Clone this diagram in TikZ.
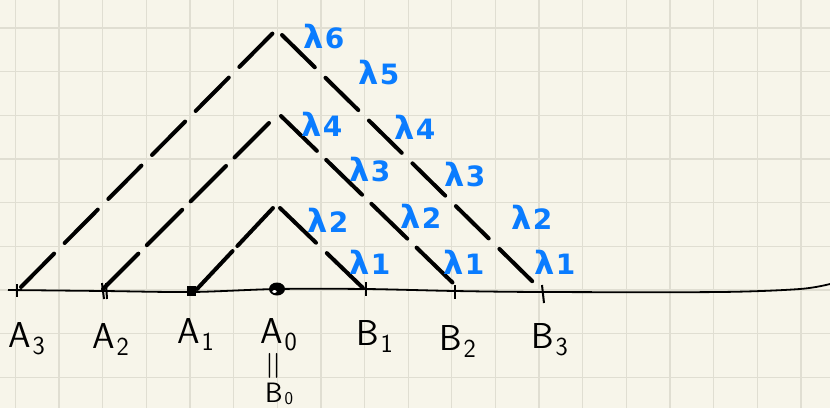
\documentclass[tikz,border=0pt]{standalone}
\usepackage{fontspec}
\newfontfamily\lamfont{DejaVu Sans}
\usetikzlibrary{calc}
\definecolor{paper}{RGB}{247,245,234}
\definecolor{gridc}{RGB}{224,222,210}
\definecolor{lblue}{RGB}{10,124,255}
\newcommand{\lm}[1]{λ\kern1pt{\fontsize{28}{28}\selectfont #1}}
\newcommand{\pt}[2]{#1\kern2pt\raisebox{-7pt}{\fontsize{26}{26}\selectfont #2}}
\tikzset{
  gridline/.style={draw=gridc, line width=1.3pt},
  dline/.style={line width=4pt, line cap=round, black},
  lam/.style={text=lblue, font=\lamfont\bfseries\fontsize{32}{32}\selectfont, inner sep=0pt},
  plab/.style={font=\sffamily\fontsize{36}{36}\selectfont, inner sep=0pt, anchor=base west},
  tick/.style={line width=2pt, black}
}
\begin{document}
\begin{tikzpicture}[x=1pt,y=-1pt]
\useasboundingbox (0,0) rectangle (830,408);
\fill[paper] (0,0) rectangle (830,408);
\foreach \i in {0,...,18} {\draw[gridline] ({15.3+43.65*\i},0) -- ++(0,408);}
\foreach \j in {0,...,8} {\draw[gridline] (0,{28+43.65*\j}) -- ++(830,0);}
% axis points
\coordinate (A3) at (17,290);
\coordinate (A2) at (104,291);
\coordinate (A1) at (192,292);
\coordinate (A0) at (277,289);
\coordinate (B1) at (366,289);
\coordinate (B2) at (455,291);
\coordinate (B3) at (543,292);
\coordinate (axL) at (8,290);
\coordinate (axR) at (830,284);
\draw[line width=1.8pt] plot[smooth] coordinates {(axL) (A2) (A1) (A0) (B1) (B2) (B3) (720,292) (800,289) (axR)};
% triangle sides
\coordinate (L3a) at (21,287); \coordinate (L3b) at (273,33);
\coordinate (R3a) at (282,35); \coordinate (R3b) at (533,282);
\coordinate (L2a) at (103,289); \coordinate (L2b) at (269,123);
\coordinate (R2a) at (281,116); \coordinate (R2b) at (453,283);
\coordinate (L1a) at (197,289); \coordinate (L1b) at (273,208);
\coordinate (R1a) at (280,208); \coordinate (R1b) at (363,288);
\draw[dline, dash pattern=on 47pt off 15pt] (L3a) -- (L3b);
\draw[dline, dash pattern=on 46pt off 15pt] (R3a) -- (R3b);
\draw[dline, dash pattern=on 50pt off 12pt] (L2a) -- (L2b);
\draw[dline, dash pattern=on 50pt off 13pt] (R2a) -- (R2b);
\draw[dline, dash pattern=on 52pt off 7pt] (L1a) -- (L1b);
\draw[dline, dash pattern=on 50pt off 15pt] (R1a) -- (R1b);
% marks on axis
\draw[tick] ($(A3)+(0,-6)$) -- ($(A3)+(0,7)$);
\draw[tick] ($(A2)+(-2,-8)$) -- ($(A2)+(0,8)$);
\draw[tick] ($(A2)+(2,-8)$) -- ($(A2)+(3,8)$);
\fill ($(A1)+(-5,-6)$) rectangle ($(A1)+(4,4)$);
\fill (A0) ellipse (8pt and 6.5pt);
\fill[white] ($(A0)+(-2.5,2.5)$) ellipse (2.2pt and 1.4pt);
\draw[tick] ($(B1)+(0,-7)$) -- ($(B1)+(0,7)$);
\draw[tick] ($(B2)+(0,-6)$) -- ($(B2)+(0,8)$);
\draw[tick] ($(B3)+(-1,-7)$) -- ($(B3)+(1,11)$);
% point labels
\node[plab] (tA3) at (8,347) {\pt{A}{3}};
\node[plab] (tA2) at (92,348) {\pt{A}{2}};
\node[plab] (tA1) at (177,343) {\pt{A}{1}};
\node[plab] (tA0) at (260,343) {\pt{A}{0}};
\node[plab] (tB1) at (356,345) {\pt{B}{1}};
\node[plab] (tB2) at (439,350) {\pt{B}{2}};
\node[plab] (tB3) at (531,348) {\pt{B}{3}};
\node[font=\sffamily\fontsize{40}{40}\selectfont, inner sep=0pt, rotate=90] (eq) at (276,366) {=};
\node[plab, font=\sffamily\fontsize{28}{28}\selectfont] (tB0) at (265,402) {B\kern2pt\raisebox{-2pt}{\fontsize{18}{18}\selectfont 0}};
% lambda labels
\node[lam] (l6) at (324,37) {\lm{6}};
\node[lam] (l5) at (379,73) {\lm{5}};
\node[lam] (l4b) at (415,127) {\lm{4}};
\node[lam] (l3b) at (465,175) {\lm{3}};
\node[lam] (l2b) at (532,217) {\lm{2}};
\node[lam] (l1b) at (555,262) {\lm{1}};
\node[lam] (l4m) at (322,124) {\lm{4}};
\node[lam] (l3m) at (370,170) {\lm{3}};
\node[lam] (l2m) at (421,216) {\lm{2}};
\node[lam] (l1m) at (464,262) {\lm{1}};
\node[lam] (l2s) at (328,220) {\lm{2}};
\node[lam] (l1s) at (370,262) {\lm{1}};
\end{tikzpicture}
\end{document}
